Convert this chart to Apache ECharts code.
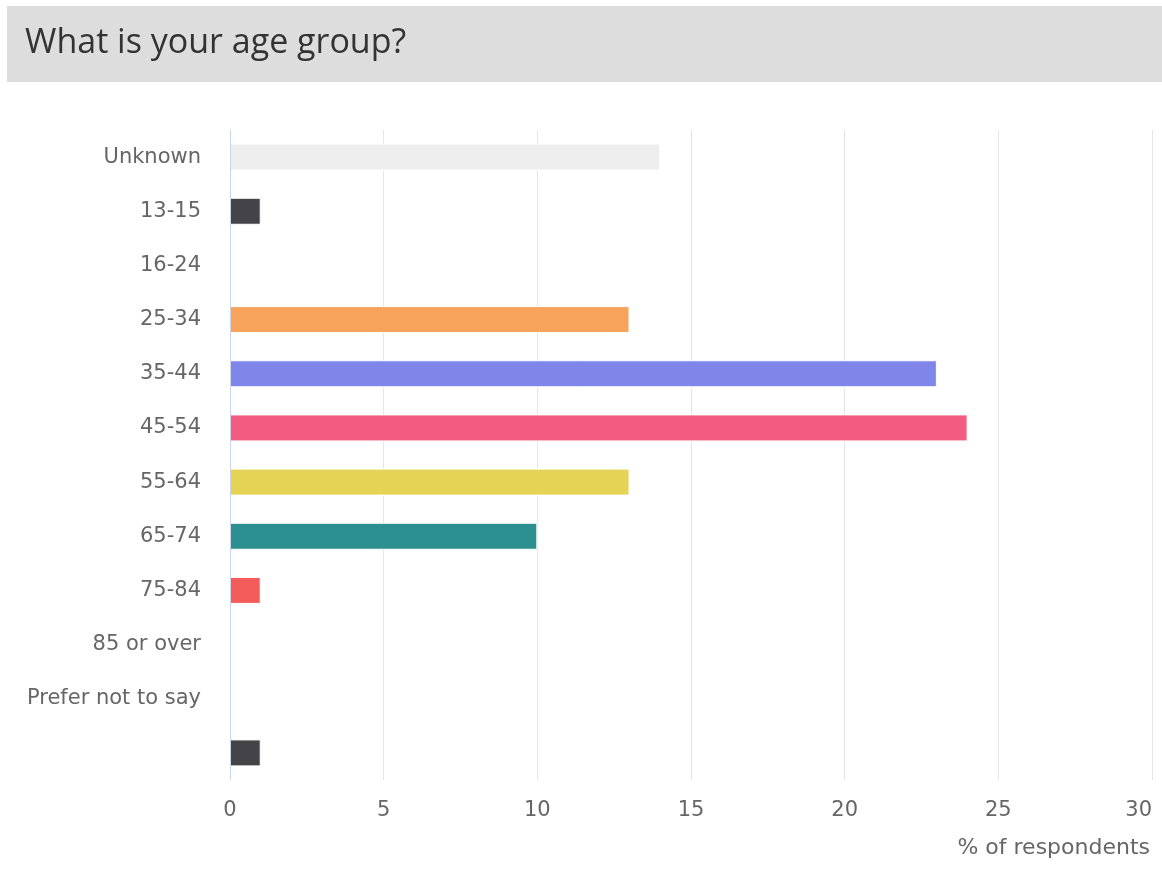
<!DOCTYPE html>
<html>
<head>
<meta charset="utf-8">
<script src="https://cdn.jsdelivr.net/npm/echarts@6/dist/echarts.min.js"></script>
<style>
html,body{margin:0;padding:0;background:#fff;overflow:hidden;}
#chart{width:1162px;height:870px;}
</style>
</head>
<body>
<div id="chart"></div>
<script>
const titleText = 'What is your age group?';
const categories = ['Unknown','13-15','16-24','25-34','35-44','45-54','55-64','65-74','75-84','85 or over','Prefer not to say',''];
const values = [14, 1, 0, 13, 23, 24, 13, 10, 1, 0, 0, 1];
const colors = ['#eeeeee','#434348','#90ed7d','#f7a35c','#8085e9','#f15c80','#e4d354','#2b908f','#f45b5b','#91e8e1','#7cb5ec','#434348'];
const xTicks = [0, 5, 10, 15, 20, 25, 30];
const axisName = '% of respondents';

const chart = echarts.init(document.getElementById('chart'), null, {renderer:'canvas'});
chart.setOption({
  animation:false,
  backgroundColor:'#ffffff',
  graphic:[
    {type:'rect', left:7, top:6, shape:{width:1155, height:76}, style:{fill:'#dddddd'}, z:-1},
    {type:'text', left:25, top:26, style:{text:titleText, font:'34px "Open Sans"', fill:'#333333'}}
  ],
  grid:{left:230, right:10, top:130, bottom:90, containLabel:false, outerBoundsMode:'none'},
  xAxis:{
    type:'value', min:xTicks[0], max:xTicks[xTicks.length-1], interval:5,
    name:axisName, nameLocation:'end', nameGap:0,
    nameTextStyle:{fontFamily:'DejaVu Sans', fontSize:22, color:'#666666', align:'right', verticalAlign:'top', padding:[57,2,0,0]},
    axisLine:{show:false}, axisTick:{show:false},
    axisLabel:{fontFamily:'DejaVu Sans', fontSize:21, color:'#666666', margin:20, alignMaxLabel:'right'},
    splitLine:{show:true, lineStyle:{color:'#e6e6e6', width:1}}
  },
  yAxis:{
    type:'category', data:categories, inverse:true, z:5,
    axisLine:{show:true, lineStyle:{color:'#ccd6eb', width:1}},
    axisTick:{show:false},
    axisLabel:{fontFamily:'DejaVu Sans', fontSize:21, color:'#666666', margin:29, padding:[3,0,0,0]},
    splitLine:{show:false}
  },
  series:[{
    type:'bar',
    barWidth:27,
    data: values.map((v,i)=>({value:v, itemStyle:{color:colors[i], borderColor:'#ffffff', borderWidth:1}}))
  }]
});
</script>
</body>
</html>
